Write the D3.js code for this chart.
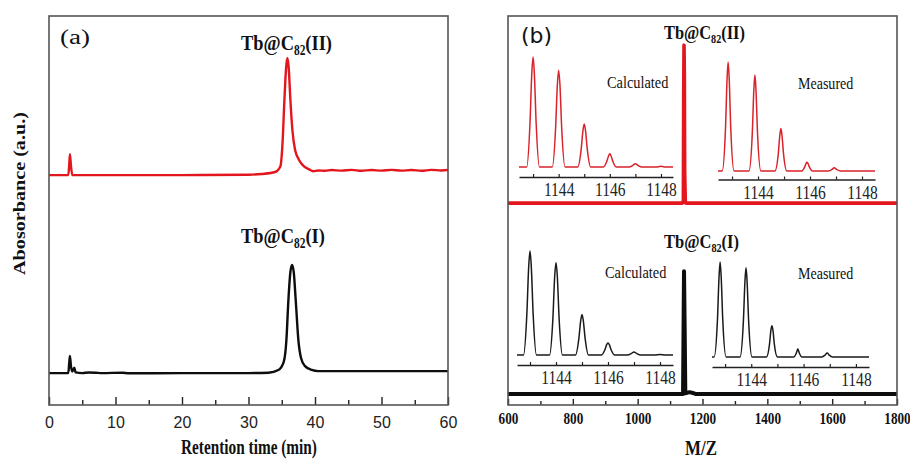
<!DOCTYPE html>
<html>
<head>
<meta charset="utf-8">
<script src="https://cdn.jsdelivr.net/npm/d3@7"></script>
<style>
  html, body { margin: 0; padding: 0; background: #fff; }
  svg { display: block; }
</style>
</head>
<body>
<div id="chart"></div>
<script>
// ---- (a) HPLC chromatograms: [retention time (min), absorbance (a.u.)]
const timeTicks = [0, 10, 20, 30, 40, 50, 60];
const timeMinor = [5, 15, 25, 35, 45, 55];
const chromII = [
  [0, 59.1], [2.9, 59.1], [3.05, 62], [3.15, 64.5], [3.3, 61.5], [3.5, 59.1], [10, 59.1], [20, 59.1],
  [30, 59.2], [32, 59.4], [34, 59.9], [34.8, 61.4], [35.1, 66.8], [35.4, 78.4], [35.65, 86.6],
  [35.85, 89.2], [36.05, 86.6], [36.3, 78.4], [36.6, 70.7], [37.0, 65.6], [37.6, 63.0], [38.3, 61.4],
  [39.2, 60.5], [39.7, 60.1], [40.5, 60.3], [41.5, 60.2], [42.5, 60.4], [44, 60.25], [45.5, 60.45],
  [47, 60.2], [48.5, 60.4], [50, 60.25], [51.5, 60.45], [53, 60.25], [54.5, 60.4], [56, 60.2],
  [57.5, 60.45], [59, 60.3], [60, 60.4]
];
const chromI = [
  [0, 8.2], [2.9, 8.2], [3.05, 11], [3.15, 12.6], [3.3, 10], [3.5, 8.6], [3.8, 9.6], [4.0, 8.4],
  [5, 8.2], [6, 8.35], [7, 8.3], [8, 8.2], [11, 8.3], [12, 8.15], [20, 8.2], [30, 8.2], [33, 8.3],
  [34.5, 9.0], [35.3, 11.1], [35.7, 16.7], [36.0, 27.0], [36.3, 34.2], [36.55, 36.0], [36.8, 34.2],
  [37.1, 27.0], [37.5, 16.7], [37.9, 12.1], [38.5, 10.0], [39.5, 9.0], [40.5, 8.7], [60, 8.7]
];

// ---- (b) mass spectra: [m/z, intensity]
const mzTicks = [600, 800, 1000, 1200, 1400, 1600, 1800];
const mzMinor = [700, 900, 1100, 1300, 1500, 1700];
const msII = [
  [600, 51.9], [1138, 51.9], [1141, 52.5], [1142, 80], [1143, 92.5], [1144, 85], [1145, 60],
  [1147, 52], [1150, 51.9], [1800, 51.9]
];
const msI = [
  [600, 2.8], [1140, 2.8], [1142, 25], [1143, 34.4], [1145, 20], [1147, 3], [1160, 3.3],
  [1170, 3.1], [1180, 2.8], [1800, 2.8]
];

// ---- isotope pattern insets: [m/z, relative intensity]
const isoTicks = [1144, 1146, 1148];
const isoMinor = [1143, 1145, 1147];
const calcII = [
  [1142.45, 0], [1142.75, 0], [1142.88, 40], [1142.95, 85], [1143, 100], [1143.05, 85], [1143.12, 40], [1143.25, 0],
  [1143.75, 0], [1143.88, 35], [1143.95, 75], [1144, 88], [1144.05, 75], [1144.12, 35], [1144.25, 0],
  [1144.75, 0], [1144.88, 16], [1144.95, 33], [1145, 39], [1145.05, 33], [1145.12, 16], [1145.25, 0],
  [1145.75, 0], [1145.88, 5], [1145.95, 10], [1146, 12], [1146.05, 10], [1146.12, 5], [1146.25, 0],
  [1146.75, 0], [1146.9, 1.5], [1147, 3], [1147.1, 1.5], [1147.25, 0],
  [1147.8, 0], [1148, 0.6], [1148.2, 0], [1148.47, 0]
];
const measII = [
  [1142.46, 0], [1142.62, 0], [1142.75, 40], [1142.81, 85], [1142.85, 100], [1142.89, 85], [1142.95, 40], [1143.08, 0],
  [1143.65, 0], [1143.78, 35], [1143.84, 75], [1143.88, 88], [1143.92, 75], [1143.98, 35], [1144.11, 0],
  [1144.65, 0], [1144.78, 16], [1144.84, 33], [1144.88, 39], [1144.92, 33], [1144.98, 16], [1145.11, 0],
  [1145.68, 0], [1145.8, 4], [1145.85, 7], [1145.88, 8], [1145.92, 7], [1145.97, 4], [1146.1, 0],
  [1146.7, 0], [1146.85, 1.5], [1146.93, 3], [1147.02, 1.5], [1147.18, 0], [1148.5, 0]
];
const calcI = [
  [1142.5, 0], [1142.75, 0], [1142.88, 40], [1142.95, 85], [1143, 100], [1143.05, 85], [1143.12, 40], [1143.25, 0],
  [1143.75, 0], [1143.88, 35], [1143.95, 76], [1144, 89], [1144.05, 76], [1144.12, 35], [1144.25, 0],
  [1144.75, 0], [1144.88, 16], [1144.95, 33], [1145, 39], [1145.05, 33], [1145.12, 16], [1145.25, 0],
  [1145.75, 0], [1145.88, 5], [1145.95, 10], [1146, 11.5], [1146.05, 10], [1146.12, 5], [1146.25, 0],
  [1146.75, 0], [1146.9, 1.5], [1147, 3], [1147.1, 1.5], [1147.25, 0],
  [1147.8, 0], [1148, 0.6], [1148.2, 0], [1148.5, 0]
];
const measI = [
  [1142.5, 0], [1142.58, 0], [1142.71, 40], [1142.77, 85], [1142.81, 100], [1142.85, 85], [1142.91, 40], [1143.04, 0],
  [1143.57, 0], [1143.7, 38], [1143.76, 80], [1143.8, 94], [1143.84, 80], [1143.9, 38], [1144.03, 0],
  [1144.58, 0], [1144.7, 14], [1144.75, 28], [1144.79, 33], [1144.83, 28], [1144.88, 14], [1145.0, 0],
  [1145.62, 0], [1145.72, 4], [1145.76, 7], [1145.78, 8.4], [1145.8, 7], [1145.84, 4], [1145.94, 0],
  [1146.7, 0], [1146.82, 2], [1146.9, 4.2], [1146.98, 2], [1147.1, 0], [1148.5, 0]
];

const RED = "#e3161e", RED_INSET = "#d8232a", BLACK = "#0d0d0d", FRAME = "#555";
const SERIF = '"Liberation Serif","Times New Roman",serif';
const SANS = '"Liberation Sans",Arial,sans-serif';
const intFmt = d3.format("d");

(function () {
  const W = 910, H = 459;
  const svg = d3.select("#chart").append("svg").attr("width", W).attr("height", H);
  svg.append("rect").attr("width", W).attr("height", H).attr("fill", "#fff");

  // text placed at its left/baseline, squeezed to the width seen in the figure
  function label(parent, o) {
    const g = parent.append("g")
      .attr("transform", `translate(${o.x},${o.y})` + (o.rotate ? ` rotate(${o.rotate})` : ""));
    const t = g.append("text")
      .attr("font-family", o.family || SERIF).attr("font-size", o.size)
      .attr("font-weight", o.weight || "normal").attr("fill", o.fill || "#111")
      .attr("text-anchor", o.anchor || "start");
    if (o.sub) {
      t.append("tspan").text(o.text);
      t.append("tspan").attr("font-size", o.size * 0.62).attr("dy", o.size * 0.22).text(o.sub);
      t.append("tspan").attr("dy", -o.size * 0.22).text(o.after);
    } else t.text(o.text);
    const bw = t.node().getBBox().width;
    t.attr("transform", `scale(${o.w / bw},${o.sy || 1})`);
  }

  // ---------- panel (a)
  const ax = d3.scaleLinear().domain([0, 60]).range([49, 448]);
  const ay = d3.scaleLinear().domain([0, 100]).range([405, 16]);
  const aLine = d3.line().x(d => ax(d[0])).y(d => ay(d[1])).curve(d3.curveMonotoneX);

  svg.append("path").datum(chromII).attr("d", aLine)
    .attr("fill", "none").attr("stroke", RED).attr("stroke-width", 2.4).attr("stroke-linejoin", "round");
  svg.append("path").datum(chromI).attr("d", aLine)
    .attr("fill", "none").attr("stroke", BLACK).attr("stroke-width", 2.4).attr("stroke-linejoin", "round");

  const aAxis = svg.append("g").attr("transform", "translate(0,405)")
    .call(d3.axisBottom(ax).tickValues(timeTicks).tickFormat(intFmt)
      .tickSizeInner(-8).tickSizeOuter(0).tickPadding(12));
  aAxis.select(".domain").remove();
  aAxis.selectAll(".tick line").attr("stroke", "#222").attr("stroke-width", 1.4);
  aAxis.selectAll(".tick text").attr("font-family", SANS).attr("font-size", 16).attr("fill", "#222");
  const aMinor = svg.append("g").attr("transform", "translate(0,405)")
    .call(d3.axisBottom(ax).tickValues(timeMinor).tickSizeInner(-5).tickSizeOuter(0).tickFormat(""));
  aMinor.select(".domain").remove();
  aMinor.selectAll(".tick line").attr("stroke", "#222").attr("stroke-width", 1.4);

  svg.append("rect").attr("x", 49).attr("y", 16).attr("width", 399).attr("height", 389)
    .attr("fill", "none").attr("stroke", FRAME).attr("stroke-width", 1.6);

  label(svg, { x: 60, y: 44, w: 30, size: 20, text: "(a)" });
  label(svg, { x: 241, y: 50, w: 91, size: 22, weight: "bold", text: "Tb@C", sub: "82", after: "(II)" });
  label(svg, { x: 241, y: 243, w: 84, size: 22, weight: "bold", text: "Tb@C", sub: "82", after: "(I)" });
  label(svg, { x: 181, y: 454, w: 136, size: 20, weight: "bold", text: "Retention time (min)" });
  label(svg, { x: 25, y: 193.5, w: 163, sy: 0.8, size: 20, weight: "bold", rotate: -90, anchor: "middle", text: "Abosorbance (a.u.)" });

  // ---------- panel (b)
  const bx = d3.scaleLinear().domain([600, 1800]).range([508, 897]);
  const by = d3.scaleLinear().domain([0, 100]).range([405, 16]);
  const bLine = d3.line().x(d => bx(d[0])).y(d => by(d[1]));

  svg.append("path").datum(msII).attr("d", bLine)
    .attr("fill", "none").attr("stroke", RED).attr("stroke-width", 3.6).attr("stroke-linejoin", "round");
  svg.append("path").datum(msI).attr("d", bLine)
    .attr("fill", "none").attr("stroke", BLACK).attr("stroke-width", 4).attr("stroke-linejoin", "round");

  const bAxis = svg.append("g").attr("transform", "translate(0,405)")
    .call(d3.axisBottom(bx).tickValues(mzTicks).tickFormat(intFmt)
      .tickSizeInner(-6).tickSizeOuter(0).tickPadding(7));
  bAxis.select(".domain").remove();
  bAxis.selectAll(".tick line").attr("stroke", "#222").attr("stroke-width", 1.4);
  bAxis.selectAll(".tick text").attr("font-family", SERIF).attr("font-weight", "bold")
    .attr("font-size", 16.5).attr("fill", "#111").attr("transform", "scale(0.8,1)");
  const bMinor = svg.append("g").attr("transform", "translate(0,405)")
    .call(d3.axisBottom(bx).tickValues(mzMinor).tickSizeInner(-4).tickSizeOuter(0).tickFormat(""));
  bMinor.select(".domain").remove();
  bMinor.selectAll(".tick line").attr("stroke", "#222").attr("stroke-width", 1.4);

  svg.append("rect").attr("x", 508).attr("y", 16).attr("width", 389).attr("height", 389)
    .attr("fill", "none").attr("stroke", FRAME).attr("stroke-width", 1.6);

  // insets: position of each small plot on the page
  const insets = [
    { data: calcII, color: RED_INSET, x0: 1142.45, x1: 1148.47, left: 519, right: 673, base: 167, top: 57, axisY: 177 },
    { data: measII, color: RED_INSET, x0: 1142.46, x1: 1148.5, left: 718, right: 875, base: 171, top: 62, axisY: 179.5 },
    { data: calcI, color: "#1a1a1a", x0: 1142.5, x1: 1148.5, left: 517, right: 673, base: 355, top: 251, axisY: 365 },
    { data: measI, color: "#1a1a1a", x0: 1142.5, x1: 1148.5, left: 712, right: 869, base: 357, top: 262, axisY: 367 }
  ];
  insets.forEach(ins => {
    const ix = d3.scaleLinear().domain([ins.x0, ins.x1]).range([ins.left, ins.right]);
    const iy = d3.scaleLinear().domain([0, 100]).range([ins.base, ins.top]);
    svg.append("path").datum(ins.data)
      .attr("d", d3.line().x(d => ix(d[0])).y(d => iy(d[1])).curve(d3.curveMonotoneX))
      .attr("fill", "none").attr("stroke", ins.color).attr("stroke-width", 1.5).attr("stroke-linejoin", "round");
    const g = svg.append("g").attr("transform", `translate(0,${ins.axisY})`)
      .call(d3.axisBottom(ix).tickValues(isoTicks).tickFormat(intFmt)
        .tickSizeInner(-3).tickSizeOuter(0).tickPadding(6));
    g.select(".domain").attr("stroke", "#222").attr("stroke-width", 1.5);
    g.selectAll(".tick line").attr("stroke", "#222").attr("stroke-width", 1.2);
    g.selectAll(".tick text").attr("font-family", SERIF).attr("font-size", 18.5)
      .attr("fill", "#222").attr("transform", "scale(0.84,1)");
    const gm = svg.append("g").attr("transform", `translate(0,${ins.axisY})`)
      .call(d3.axisBottom(ix).tickValues(isoMinor).tickSizeInner(-3).tickSizeOuter(0).tickFormat(""));
    gm.select(".domain").remove();
    gm.selectAll(".tick line").attr("stroke", "#222").attr("stroke-width", 1.2);
  });

  label(svg, { x: 521, y: 43, w: 31, size: 21, family: '"DejaVu Sans",sans-serif', text: "(b)" });
  label(svg, { x: 664, y: 39, w: 81, size: 19.5, weight: "bold", text: "Tb@C", sub: "82", after: "(II)" });
  label(svg, { x: 664, y: 248, w: 75, size: 19.5, weight: "bold", text: "Tb@C", sub: "82", after: "(I)" });
  label(svg, { x: 607, y: 88, w: 62, size: 16.5, text: "Calculated" });
  label(svg, { x: 798, y: 89, w: 56, size: 16.5, text: "Measured" });
  label(svg, { x: 605, y: 278, w: 62, size: 16.5, text: "Calculated" });
  label(svg, { x: 798, y: 279, w: 56, size: 16.5, text: "Measured" });
  label(svg, { x: 685, y: 455, w: 32, size: 21, weight: "bold", text: "M/Z" });
})();
</script>
</body>
</html>
